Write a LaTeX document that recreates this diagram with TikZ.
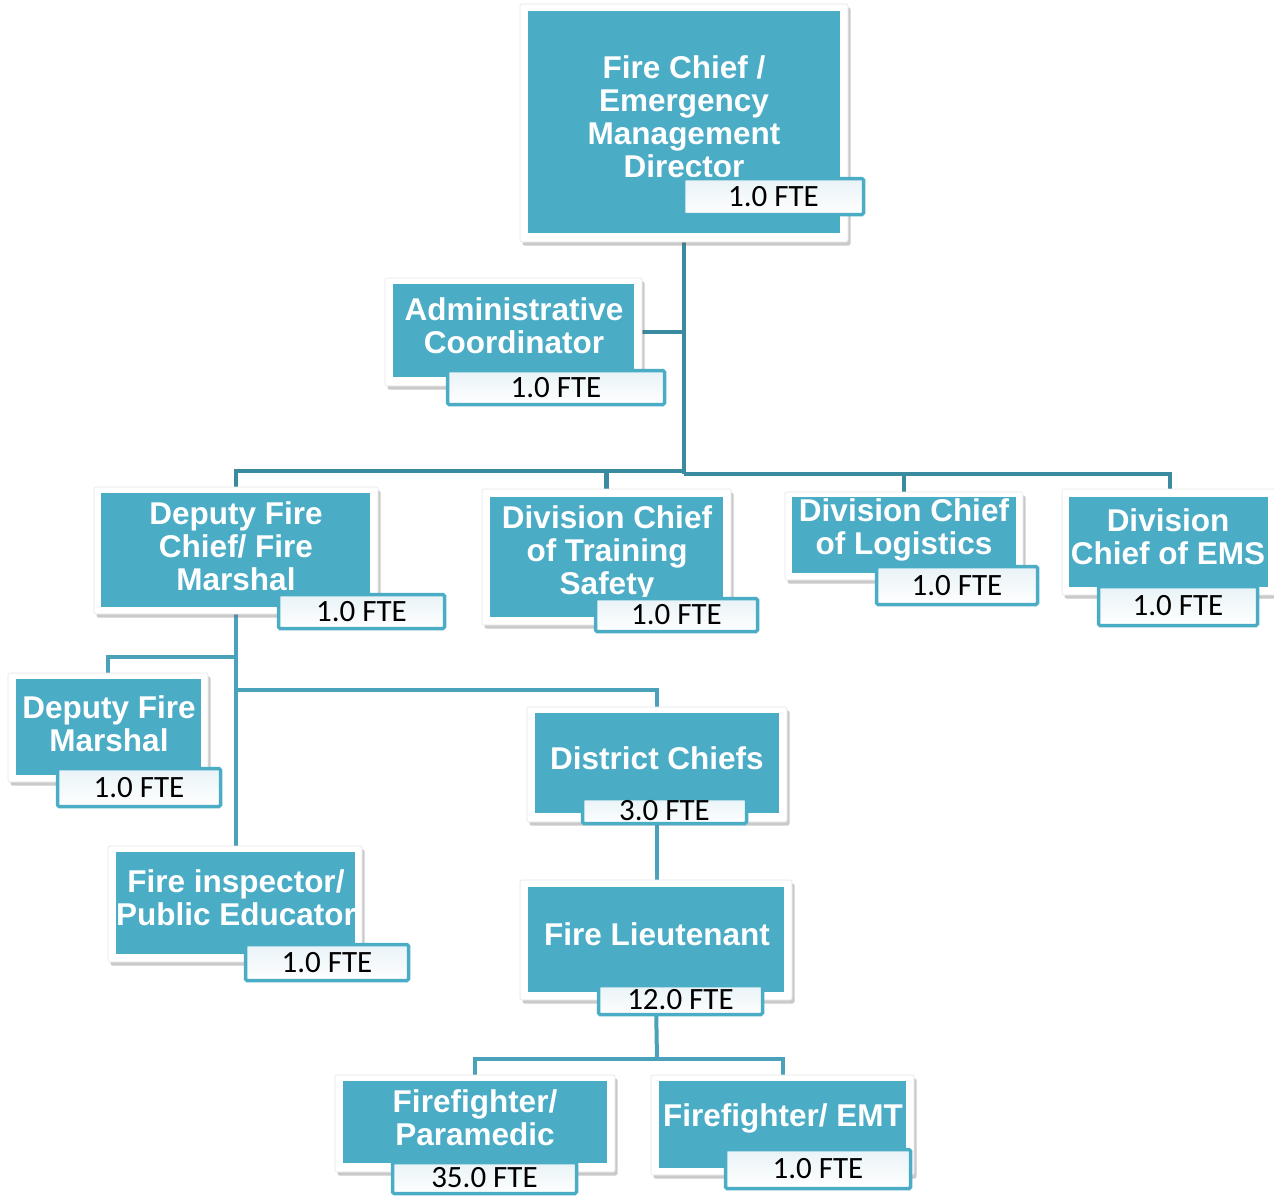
\documentclass[tikz,border=0pt]{standalone}
\usepackage{fontspec}
\setmainfont{Liberation Sans}
\newfontfamily\ftefont{Carlito}
\usetikzlibrary{shadows,backgrounds}
\definecolor{teal1}{HTML}{4BACC6}
\definecolor{connA}{HTML}{3A8AA0}
\definecolor{connB}{HTML}{4AA1BA}
\definecolor{ftetop}{HTML}{E8F3F7}
\begin{document}
\begin{tikzpicture}[x=1pt,y=-1pt,
  outerbox/.style={rectangle, fill=white, draw=black!10, line width=0.6pt, rounded corners=2pt, inner sep=0pt, outer sep=0pt,
     drop shadow={shadow xshift=2.5pt, shadow yshift=-3.5pt, opacity=0.35, fill=black!60}},
  innerbox/.style={rectangle, fill=teal1, inner sep=0pt, outer sep=0pt},
  ttl/.style={text=white, align=center, inner sep=0pt, font=\bfseries\fontsize{31.5}{33}\selectfont},
  ftebox/.style={rectangle, draw=teal1, line width=3.5pt, top color=ftetop, bottom color=white, rounded corners=1.5pt, inner sep=0pt, outer sep=0pt, font=\ftefont\fontsize{31}{33}\selectfont, text=black},
  conA/.style={draw=connA, line width=4.5pt},
  conB/.style={draw=connB, line width=4pt}
]
\useasboundingbox (0,0) rectangle (1274,1196);

% ---------- boxes ----------
% Fire Chief
\node[outerbox, minimum width=328, minimum height=238] (chief) at (684,123) {};
\node[innerbox, minimum width=312, minimum height=222] (chiefIn) at (684,122) {};
\node[ttl] (chiefT) at (684,117) {Fire Chief /\\Emergency\\Management\\Director};
\node[ftebox, minimum width=180, minimum height=36] (chiefF) at (773.5,196.5) {1.0 FTE};

% Administrative Coordinator
\node[outerbox, minimum width=257, minimum height=108] (admin) at (513.5,332) {};
\node[innerbox, minimum width=241, minimum height=93] (adminIn) at (513.5,330.5) {};
\node[ttl] (adminT) at (514,326) {Administrative\\Coordinator};
\node[ftebox, minimum width=217, minimum height=34] (adminF) at (556,387.5) {1.0 FTE};

% Deputy Fire Chief / Fire Marshal
\node[outerbox, minimum width=284, minimum height=127] (dfc) at (236,550.5) {};
\node[innerbox, minimum width=269, minimum height=114] (dfcIn) at (235.5,550) {};
\node[ttl] (dfcT) at (236,546) {Deputy Fire\\Chief/ Fire\\Marshal};
\node[ftebox, minimum width=166, minimum height=34] (dfcF) at (361.5,611.5) {1.0 FTE};

% Division Chief of Training Safety
\node[outerbox, minimum width=249, minimum height=136] (dct) at (606.5,557) {};
\node[innerbox, minimum width=233, minimum height=120] (dctIn) at (606.5,557) {};
\begin{scope}
\clip (dctIn.north west) rectangle ([yshift=-3pt]dctIn.south east);
\node[ttl] (dctT) at (607,553) {Division Chief\\of Training\\Safety};
\end{scope}
\node[ftebox, minimum width=162, minimum height=33] (dctF) at (676.5,615) {1.0 FTE};

% Division Chief of Logistics
\node[outerbox, minimum width=238, minimum height=88] (dcl) at (904,536) {};
\node[innerbox, minimum width=224, minimum height=76] (dclIn) at (904,535) {};
\node[ttl] (dclT) at (904,530) {Division Chief\\of Logistics};
\node[ftebox, minimum width=161, minimum height=38] (dclF) at (957,585.5) {1.0 FTE};

% Division Chief of EMS
\node[outerbox, minimum width=216, minimum height=106] (dce) at (1170,542) {};
\node[innerbox, minimum width=199, minimum height=90] (dceIn) at (1168.5,542) {};
\node[ttl] (dceT) at (1168,537) {Division\\Chief of EMS};
\node[ftebox, minimum width=159, minimum height=39] (dceF) at (1178,606) {1.0 FTE};

% Deputy Fire Marshal
\node[outerbox, minimum width=200, minimum height=109] (dfm) at (108,727.5) {};
\node[innerbox, minimum width=185, minimum height=96] (dfmIn) at (108.5,727) {};
\node[ttl] (dfmT) at (109,724) {Deputy Fire\\Marshal};
\node[ftebox, minimum width=163, minimum height=38] (dfmF) at (139,787.5) {1.0 FTE};

% District Chiefs
\node[outerbox, minimum width=260, minimum height=115] (dc) at (657,764.5) {};
\node[innerbox, minimum width=244, minimum height=100] (dcIn) at (657,763) {};
\node[ttl] (dcT) at (657,758) {District Chiefs};
\node[ftebox, minimum width=164, minimum height=25] (dcF) at (664.5,811) {3.0 FTE};

% Fire inspector / Public Educator
\node[outerbox, minimum width=254, minimum height=116] (fi) at (235,904) {};
\node[innerbox, minimum width=239, minimum height=102] (fiIn) at (235.5,903) {};
\begin{scope}
\clip (fiIn.south west) rectangle (fiIn.north east);
\node[ttl] (fiT) at (236,898) {Fire inspector/\\Public Educator};
\end{scope}
\node[ftebox, minimum width=163, minimum height=36] (fiF) at (327,962.5) {1.0 FTE};

% Fire Lieutenant
\node[outerbox, minimum width=272, minimum height=120] (lt) at (656,940) {};
\node[innerbox, minimum width=256, minimum height=105] (ltIn) at (656,939.5) {};
\node[ttl] (ltT) at (657,934) {Fire Lieutenant};
\node[ftebox, minimum width=164, minimum height=29] (ltF) at (680.5,1000) {12.0 FTE};

% Firefighter / Paramedic
\node[outerbox, minimum width=280, minimum height=97] (ffp) at (475,1123.5) {};
\node[innerbox, minimum width=264, minimum height=82] (ffpIn) at (475,1122) {};
\node[ttl] (ffpT) at (475,1118) {Firefighter/\\Paramedic};
\node[ftebox, minimum width=184, minimum height=31] (ffpF) at (484.5,1178) {35.0 FTE};

% Firefighter / EMT
\node[outerbox, minimum width=263, minimum height=100] (ffe) at (782.5,1125) {};
\node[innerbox, minimum width=247, minimum height=87] (ffeIn) at (782.5,1124.5) {};
\node[ttl] (ffeT) at (783,1118) {Firefighter/ EMT};
\node[ftebox, minimum width=185, minimum height=39] (ffeF) at (818,1169) {1.0 FTE};

% ---------- connectors ----------
\begin{pgfonlayer}{background}
\coordinate (jL) at (684,471);
\coordinate (jR) at (684,474);
\draw[conA] (chief.south) -- (jR);
\draw[conA] (chief.south |- admin.east) -- (admin.east);
\draw[conA] (jL) -| (dfc.north);
\draw[conA] (jL) -| (dct.north);
\draw[conA] (jR) -| (dcl.north);
\draw[conA] (jR) -| (dce.north);
\coordinate (jM1) at (236,657);
\coordinate (jM2) at (236,690);
\draw[conB] (dfc.south) -- (dfc.south |- fi.north);
\draw[conB] (jM1) -| (dfm.north);
\draw[conB] (jM2) -| (dc.north);
\draw[conB] (dc.south) -- (dc.south |- lt.north);
\coordinate (jF) at (657,1059);
\draw[conB] (lt.south) -- (jF);
\draw[conB] (jF) -| (ffp.north);
\draw[conB] (jF) -| (ffe.north);
\end{pgfonlayer}
\end{tikzpicture}
\end{document}
